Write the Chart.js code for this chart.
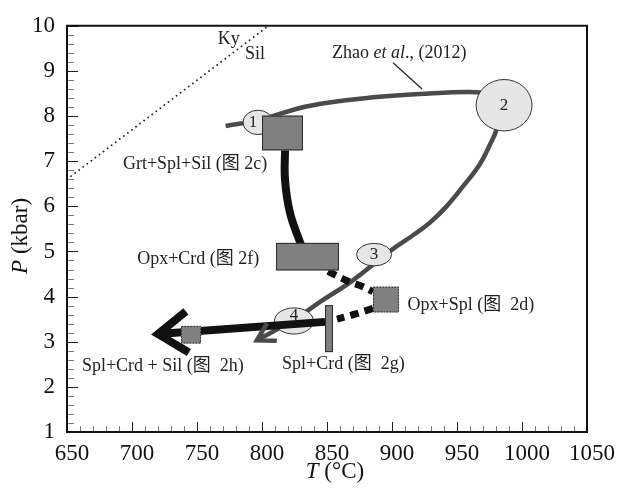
<!DOCTYPE html>
<html>
<head>
<meta charset="utf-8">
<script src="https://cdn.jsdelivr.net/npm/chart.js@4.4.0/dist/chart.umd.min.js"></script>
<style>
  html, body { margin: 0; padding: 0; background: #fff; }
  #wrap { width: 620px; height: 489px; }
</style>
</head>
<body>
<div id="wrap"><canvas id="ptChart"></canvas></div>
<script>
// T in °C, P in kbar
const kySil = [[650, 6.6], [805, 10]];
const zhaoUpper = [[772, 7.78], [797, 7.91], [837, 8.23], [888, 8.42], [921, 8.49], [965, 8.53], [984, 8.45]];
const zhaoLower = [[984, 8.2], [980.8, 7.73], [975.4, 7.37], [967.7, 6.94], [954.6, 6.44], [942.3, 6.01], [929.2, 5.64], [916.2, 5.36], [900, 5.04], [868, 4.32], [845, 3.89], [825.4, 3.5], [796, 3.03]];
const peakToOpxCrd = [[817.7, 7.24], [817.7, 6.59], [821.5, 5.86], [829.2, 5.21], [831.5, 5.04]];
const opxCrdToOpxSpl = [[850.8, 4.56], [865.4, 4.35], [877.7, 4.22], [885.4, 4.11]];
const opxSplToSplCrd = [[885.4, 3.74], [871.5, 3.61], [857.7, 3.5]];
const splCrdToSil = [[848.5, 3.44], [720, 3.17]];

// assemblage boxes: [Tmin, Tmax, Pmin, Pmax]
const boxesSolid = [[800, 831.5, 7.24, 8.01], [810.8, 859.2, 4.58, 5.19], [848.5, 854.6, 2.77, 3.81]];
const boxesDotted = [[885.4, 905.4, 3.65, 4.22], [737.7, 753.1, 2.96, 3.35]];

// numbered stages: [T, P, halfT, halfP, label]
const stages = [[796.9, 7.86, 11.5, 0.27, '1'], [986.2, 8.24, 21.5, 0.57, '2'], [886.2, 4.93, 13.5, 0.25, '3'], [824.6, 3.46, 15, 0.29, '4']];

const phaseLabels = [
  ['Grt+Spl+Sil (图 2c)', 693, 6.94],
  ['Opx+Crd (图 2f)', 704, 4.82],
  ['Opx+Spl (图  2d)', 912, 3.81],
  ['Spl+Crd + Sil (图  2h)', 661.5, 2.45],
  ['Spl+Crd (图  2g)', 815.4, 2.49]
];

const SERIF = "'Liberation Serif', 'Times New Roman', 'Noto Sans CJK SC', serif";
const toXY = arr => arr.map(p => ({ x: p[0], y: p[1] }));

function lineSet(pts, color, width, extra) {
  return Object.assign({
    data: toXY(pts),
    showLine: true,
    borderColor: color,
    borderWidth: width,
    pointRadius: 0,
    tension: 0.4,
    fill: false
  }, extra || {});
}

function arrowHead(ctx, chart, pts, len, spread, width, color) {
  const xs = chart.scales.x, ys = chart.scales.y;
  const a = pts[pts.length - 2], b = pts[pts.length - 1];
  const ax = xs.getPixelForValue(a[0]), ay = ys.getPixelForValue(a[1]);
  const bx = xs.getPixelForValue(b[0]), by = ys.getPixelForValue(b[1]);
  const back = Math.atan2(ay - by, ax - bx);
  ctx.save();
  ctx.strokeStyle = color;
  ctx.lineWidth = width;
  ctx.lineJoin = 'miter';
  ctx.lineCap = 'butt';
  ctx.beginPath();
  ctx.moveTo(bx + len * Math.cos(back - spread), by + len * Math.sin(back - spread));
  ctx.lineTo(bx, by);
  ctx.lineTo(bx + len * Math.cos(back + spread), by + len * Math.sin(back + spread));
  ctx.stroke();
  ctx.restore();
}

function drawBox(ctx, chart, b, dotted) {
  const xs = chart.scales.x, ys = chart.scales.y;
  const x0 = xs.getPixelForValue(b[0]), x1 = xs.getPixelForValue(b[1]);
  const y0 = ys.getPixelForValue(b[3]), y1 = ys.getPixelForValue(b[2]);
  ctx.save();
  ctx.fillStyle = '#808080';
  ctx.fillRect(x0, y0, x1 - x0, y1 - y0);
  ctx.strokeStyle = '#2a2a2a';
  ctx.lineWidth = 1;
  if (dotted) ctx.setLineDash([1.5, 1.5]);
  ctx.strokeRect(x0 + 0.5, y0 + 0.5, x1 - x0 - 1, y1 - y0 - 1);
  ctx.restore();
}

let stagesDrawn = false;

const ptPlugin = {
  id: 'ptPlugin',
  beforeDatasetsDraw() { stagesDrawn = false; },
  beforeDatasetDraw(chart, args) {
    // stage ellipses sit above the grey path but under the black ones
    const ds = chart.data.datasets[args.index];
    if (ds.kind !== 'black' || stagesDrawn) return;
    stagesDrawn = true;
    const ctx = chart.ctx, xs = chart.scales.x, ys = chart.scales.y;
    ctx.save();
    stages.forEach(s => {
      const cx = xs.getPixelForValue(s[0]), cy = ys.getPixelForValue(s[1]);
      const rx = Math.abs(xs.getPixelForValue(s[0] + s[2]) - cx);
      const ry = Math.abs(ys.getPixelForValue(s[1] + s[3]) - cy);
      ctx.beginPath();
      ctx.ellipse(cx, cy, rx, ry, 0, 0, Math.PI * 2);
      ctx.fillStyle = '#e6e6e6';
      ctx.fill();
      ctx.strokeStyle = '#333';
      ctx.lineWidth = 1;
      ctx.stroke();
    });
    ctx.restore();
  },
  afterDatasetsDraw(chart) {
    const ctx = chart.ctx, xs = chart.scales.x, ys = chart.scales.y;

    arrowHead(ctx, chart, zhaoLower, 20, Math.PI / 6, 4.5, '#4a4a4a');
    arrowHead(ctx, chart, splCrdToSil, 36, Math.PI * 35 / 180, 8, '#111');

    boxesSolid.forEach(b => drawBox(ctx, chart, b, false));
    boxesDotted.forEach(b => drawBox(ctx, chart, b, true));

    ctx.save();
    ctx.fillStyle = '#222';
    ctx.textBaseline = 'middle';

    // stage numbers ("1" peeks out left of its box, "4" sits above the black arrow)
    ctx.textAlign = 'center';
    ctx.font = '17px ' + SERIF;
    stages.forEach(s => {
      const dx = s[4] === '1' ? -5 : 0;
      const dy = s[4] === '4' ? -5 : 0;
      ctx.fillText(s[4], xs.getPixelForValue(s[0]) + dx, ys.getPixelForValue(s[1]) + dy);
    });

    ctx.textAlign = 'left';
    ctx.font = '18px ' + SERIF;
    phaseLabels.forEach(l => ctx.fillText(l[0], xs.getPixelForValue(l[1]), ys.getPixelForValue(l[2])));
    ctx.fillText('Ky', xs.getPixelForValue(766), ys.getPixelForValue(9.7));
    ctx.fillText('Sil', xs.getPixelForValue(787), ys.getPixelForValue(9.37));

    // Zhao et al. (2012) reference with leader line
    let tx = xs.getPixelForValue(853.8);
    const ty = ys.getPixelForValue(9.4);
    ctx.fillText('Zhao ', tx, ty);
    tx += ctx.measureText('Zhao ').width;
    ctx.font = 'italic 18px ' + SERIF;
    ctx.fillText('et al', tx, ty);
    tx += ctx.measureText('et al').width;
    ctx.font = '18px ' + SERIF;
    ctx.fillText('., (2012)', tx, ty);
    ctx.strokeStyle = '#222';
    ctx.lineWidth = 1.2;
    ctx.beginPath();
    ctx.moveTo(xs.getPixelForValue(900.8), ys.getPixelForValue(9.18));
    ctx.lineTo(xs.getPixelForValue(923.1), ys.getPixelForValue(8.6));
    ctx.stroke();
    ctx.restore();
  },
  afterDraw(chart) {
    const ctx = chart.ctx, xs = chart.scales.x, ys = chart.scales.y;
    const area = chart.chartArea;
    ctx.save();
    ctx.setLineDash([]);

    // inward ticks: majors dark, minors lighter
    ctx.lineWidth = 1;
    [true, false].forEach(major => {
      ctx.strokeStyle = major ? '#222' : '#777';
      ctx.beginPath();
      for (let i = 0; i <= 40; i++) {
        if ((i % 5 === 0) !== major) continue;
        const x = Math.round(xs.getPixelForValue(650 + 10 * i)) + 0.5;
        ctx.moveTo(x, area.bottom);
        ctx.lineTo(x, area.bottom - (major ? 10 : 6));
      }
      for (let i = 0; i <= 45; i++) {
        if ((i % 5 === 0) !== major) continue;
        const y = Math.round(ys.getPixelForValue(1 + 0.2 * i)) + 0.5;
        ctx.moveTo(area.left, y);
        ctx.lineTo(area.left + (major ? 11 : 7), y);
      }
      ctx.stroke();
    });

    // frame
    ctx.lineWidth = 2;
    ctx.strokeStyle = '#111';
    ctx.beginPath();
    ctx.rect(area.left, area.top, area.right - area.left, area.bottom - area.top);
    ctx.stroke();

    // axis titles
    ctx.fillStyle = '#111';
    ctx.textAlign = 'left';
    ctx.textBaseline = 'middle';
    ctx.font = 'italic 23px ' + SERIF;
    const tW = ctx.measureText('T').width;
    ctx.font = '23px ' + SERIF;
    const unitW = ctx.measureText(' (°C)').width;
    const ax = (area.left + area.right) / 2 + 8 - (tW + unitW) / 2;
    const ay = 472;
    ctx.font = 'italic 23px ' + SERIF;
    ctx.fillText('T', ax, ay);
    ctx.font = '23px ' + SERIF;
    ctx.fillText(' (°C)', ax + tW, ay);

    ctx.translate(21, (area.top + area.bottom) / 2 + 7);
    ctx.rotate(-Math.PI / 2);
    ctx.font = 'italic 23px ' + SERIF;
    const pW = ctx.measureText('P').width;
    ctx.font = '23px ' + SERIF;
    const kW = ctx.measureText(' (kbar)').width;
    const sx = -(pW + kW) / 2;
    ctx.font = 'italic 23px ' + SERIF;
    ctx.fillText('P', sx, 0);
    ctx.font = '23px ' + SERIF;
    ctx.fillText(' (kbar)', sx + pW, 0);
    ctx.restore();
  }
};

new Chart(document.getElementById('ptChart'), {
  type: 'scatter',
  data: {
    datasets: [
      lineSet(splCrdToSil, '#111', 8, { kind: 'black', order: 1, tension: 0, borderCapStyle: 'butt' }),
      lineSet(peakToOpxCrd, '#111', 8, { kind: 'black', order: 1 }),
      lineSet(opxCrdToOpxSpl, '#111', 7, { kind: 'black', order: 1, borderDash: [9, 6], tension: 0.3 }),
      lineSet(opxSplToSplCrd, '#111', 7, { kind: 'black', order: 1, borderDash: [9, 6], tension: 0.3 }),
      lineSet(zhaoUpper, '#4a4a4a', 4.5, { kind: 'grey', order: 3 }),
      lineSet(zhaoLower, '#4a4a4a', 4.5, { kind: 'grey', order: 3 }),
      lineSet(kySil, '#222', 1.8, { kind: 'grey', order: 4, tension: 0, borderDash: [0.1, 5], borderCapStyle: 'round' })
    ]
  },
  options: {
    responsive: true,
    maintainAspectRatio: false,
    animation: false,
    events: [],
    layout: { padding: { top: 15, right: 33, left: 0, bottom: 0 } },
    plugins: { legend: { display: false }, tooltip: { enabled: false } },
    scales: {
      x: {
        type: 'linear',
        min: 650,
        max: 1050,
        grid: { display: false, drawTicks: false },
        border: { display: false },
        ticks: {
          stepSize: 50,
          padding: 8,
          labelOffset: 5,
          maxRotation: 0,
          color: '#111',
          font: { family: SERIF, size: 23 },
          callback: v => String(v)
        },
        afterFit(scale) { scale.height = 57; }
      },
      y: {
        type: 'linear',
        min: 1,
        max: 10,
        grid: { display: false, drawTicks: false },
        border: { display: false },
        ticks: {
          stepSize: 1,
          padding: 12,
          color: '#111',
          font: { family: SERIF, size: 23 }
        },
        afterFit(scale) { scale.width = 67; }
      }
    }
  },
  plugins: [ptPlugin]
});
</script>
</body>
</html>
